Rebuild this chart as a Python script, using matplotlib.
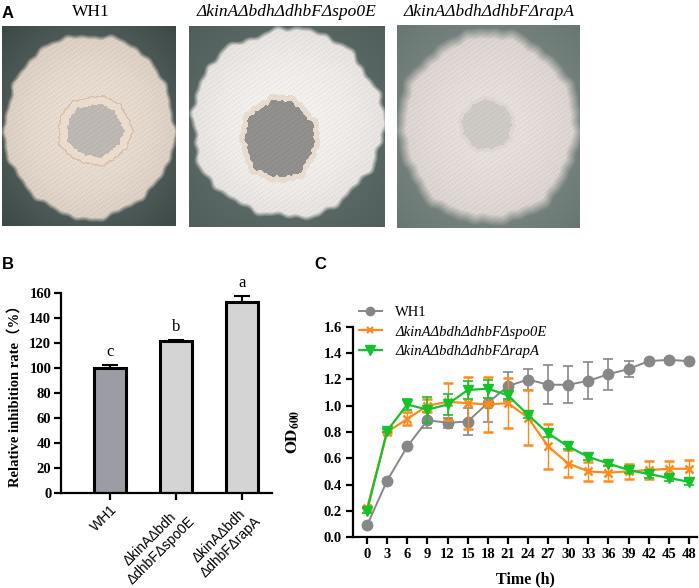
import numpy as np
import matplotlib
matplotlib.use("Agg")
import matplotlib.pyplot as plt
from matplotlib.lines import Line2D

plt.rcParams['mathtext.fontset'] = 'stix'

W, H = 699, 588
fig = plt.figure(figsize=(W / 100, H / 100), dpi=100)

def ax_px(x0, y0, x1, y1):
    return fig.add_axes([x0 / W, 1 - y1 / H, (x1 - x0) / W, (y1 - y0) / H])

SERIF = ['Liberation Serif', 'DejaVu Serif']
SANS = ['Liberation Sans', 'DejaVu Sans']

# ---------------- data ----------------
strains_photo = ['WH1', 'ΔkinAΔbdhΔdhbFΔspo0E', 'ΔkinAΔbdhΔdhbFΔrapA']

bar_labels = ['WH1', 'ΔkinAΔbdh\nΔdhbFΔspo0E', 'ΔkinAΔbdh\nΔdhbFΔrapA']
bar_values = [100, 121.5, 153]
bar_errors = [2.5, 0.8, 4.5]
bar_letters = ['c', 'b', 'a']
bar_colors = ['#9c9ca4', '#d4d4d4', '#d4d4d4']

time_h = [0, 3, 6, 9, 12, 15, 18, 21, 24, 27, 30, 33, 36, 39, 42, 45, 48]
wh1 = [0.09, 0.43, 0.69, 0.89, 0.87, 0.88, 1.02, 1.15, 1.20, 1.16, 1.16, 1.19, 1.24, 1.28, 1.34, 1.35, 1.34]
wh1_err = [0.01, 0.01, 0.01, 0.06, 0.04, 0.10, 0.14, 0.11, 0.08, 0.15, 0.14, 0.14, 0.12, 0.06, 0.01, 0.01, 0.01]
spo = [0.22, 0.80, 0.90, 1.00, 1.03, 1.02, 1.01, 1.02, 0.91, 0.69, 0.56, 0.50, 0.49, 0.50, 0.51, 0.52, 0.52]
spo_err = [0.01, 0.01, 0.05, 0.05, 0.14, 0.20, 0.21, 0.19, 0.21, 0.17, 0.10, 0.07, 0.06, 0.06, 0.07, 0.06, 0.07]
rap = [0.20, 0.81, 1.01, 0.97, 1.01, 1.12, 1.13, 1.08, 0.93, 0.79, 0.69, 0.61, 0.56, 0.51, 0.48, 0.45, 0.42]
rap_err = [0.02, 0.01, 0.04, 0.10, 0.08, 0.07, 0.07, 0.03, 0.02, 0.03, 0.02, 0.02, 0.02, 0.02, 0.03, 0.02, 0.02]
series_names = ['WH1', 'ΔkinAΔbdhΔdhbFΔspo0E', 'ΔkinAΔbdhΔdhbFΔrapA']

# ---------------- panel A (photo sketches) ----------------
def hexrgb(h):
    h = h.lstrip('#')
    return np.array([int(h[i:i + 2], 16) / 255 for i in (0, 2, 4)])

def wobble(a, amp, ph):
    return amp * (0.30 * np.sin(5 * a + ph) + 0.22 * np.sin(9 * a + 2.1 * ph)
                  + 0.20 * np.sin(14 * a + 0.7) + 0.16 * np.sin(23 * a + 1.9 * ph)
                  + 0.12 * np.sin(37 * a + 0.3))

def photo(ax, wpx, hpx, bg_mid, bg_edge, col, cx, cy, rx, ry, amp, soft,
          inner_col, icx, icy, irx, iry, ring_col, ring_w, ph, rim_col=None):
    yy, xx = np.mgrid[0:hpx, 0:wpx]
    u = xx / wpx
    v = yy / hpx
    d = np.clip(np.sqrt((u - 0.5) ** 2 + (v - 0.5) ** 2) / 0.71, 0, 1)
    bg = hexrgb(bg_mid)[None, None, :] * (1 - d[..., None]) + hexrgb(bg_edge)[None, None, :] * d[..., None]
    ang = np.arctan2((v - cy) / ry, (u - cx) / rx)
    rr = np.sqrt(((u - cx) / rx) ** 2 + ((v - cy) / ry) ** 2)
    edge = 1 + wobble(ang, amp, ph)
    m = np.clip((edge - rr) / soft, 0, 1)
    tex = (0.02 * np.sin(xx * 1.7 + 0.5 * yy) * np.sin(yy * 1.9)
           + 0.015 * np.sin(xx * 0.9 + yy * 1.3) + 0.015 * np.sin(xx * 2.9 - yy * 2.3))
    colc = hexrgb(col)[None, None, :] + tex[..., None] - 0.06 * (rr[..., None] ** 2)
    img = bg * (1 - m[..., None]) + colc * m[..., None]
    ia = np.arctan2((v - icy) / iry, (u - icx) / irx)
    ir = np.sqrt(((u - icx) / irx) ** 2 + ((v - icy) / iry) ** 2)
    iedge = 1 + wobble(ia, 0.10, ph + 1.0)
    ring = (ir < iedge + ring_w) & (ir >= iedge)
    inner = ir < iedge
    ringc = hexrgb(ring_col)[None, None, :] + 0.5 * tex[..., None]
    img[ring] = ringc[ring]
    if rim_col is not None:
        rim = (ir < iedge + ring_w + 0.06) & (ir >= iedge + ring_w)
        img[rim] = hexrgb(rim_col)
    innc = hexrgb(inner_col)[None, None, :] + 0.8 * tex[..., None]
    img[inner] = innc[inner]
    ax.imshow(np.clip(img, 0, 1), aspect='auto', interpolation='bilinear')
    ax.set_axis_off()

axp1 = ax_px(2, 26, 176, 226)
photo(axp1, 174, 200, '#6f7c78', '#3b4846', '#e9dcd1', 0.50, 0.50, 0.50, 0.47, 0.045, 0.05,
      '#bdb8b3', 0.53, 0.52, 0.16, 0.13, '#ecdccd', 0.28, 0.0, rim_col='#d6c1ae')
axp2 = ax_px(189, 26, 385, 227)
photo(axp2, 196, 201, '#6c7a76', '#4f5e5a', '#f3f0ee', 0.50, 0.48, 0.50, 0.48, 0.06, 0.05,
      '#908f8d', 0.46, 0.56, 0.175, 0.19, '#e8dbcf', 0.16, 1.5)
axp3 = ax_px(397, 25, 580, 228)
photo(axp3, 183, 203, '#8b9692', '#687671', '#e7dfdb', 0.50, 0.50, 0.51, 0.49, 0.04, 0.12,
      '#cdc9c5', 0.49, 0.49, 0.135, 0.12, '#e0d7d1', 0.15, 3.0)

fig.text(2 / W, 1 - 13 / H, 'A', family=SANS, weight='bold', fontsize=12, ha='left', va='center')
fig.text(91 / W, 1 - 12 / H, strains_photo[0], family=SERIF, fontsize=12.5, ha='center', va='center')
fig.text(286 / W, 1 - 12 / H, strains_photo[1], family=SERIF, style='italic', fontsize=12.5, ha='center', va='center')
fig.text(489 / W, 1 - 12 / H, strains_photo[2], family=SERIF, style='italic', fontsize=12.5, ha='center', va='center')

# ---------------- panel B ----------------
fig.text(2 / W, 1 - 264 / H, 'B', family=SANS, weight='bold', fontsize=12, ha='left', va='center')
axb = ax_px(61, 293, 272, 493)
xb = np.arange(len(bar_values))
axb.bar(xb, bar_values, width=0.48, color=bar_colors, edgecolor='black', linewidth=2.2, zorder=2)
axb.errorbar(xb, bar_values, yerr=[[0] * len(bar_errors), bar_errors], fmt='none',
             ecolor='black', elinewidth=1.5, capsize=6, capthick=1.5, zorder=1)
for xi, v, e, s in zip(xb, bar_values, bar_errors, bar_letters):
    axb.text(xi, v + e + 4, s, family=SERIF, fontsize=12, ha='center', va='bottom')
axb.set_xlim(-0.742, 2.45)
axb.set_ylim(0, 160)
axb.set_yticks(range(0, 161, 20))
axb.set_xticks(xb)
axb.set_xticklabels(bar_labels, rotation=45, ha='right', va='top', rotation_mode='anchor',
                    family=SANS, fontsize=10, multialignment='center')
for lab in axb.get_yticklabels():
    lab.set_family(SERIF); lab.set_weight('bold'); lab.set_fontsize(10.5)
for sp in ['top', 'right']:
    axb.spines[sp].set_visible(False)
for sp in ['left', 'bottom']:
    axb.spines[sp].set_linewidth(1.6)
axb.tick_params(axis='both', direction='out', length=5, width=1.6, pad=2)
fig.text(15 / W, 1 - 393 / H, 'Relative inhibition rate（%）', family=['Liberation Serif', 'Noto Sans CJK SC'],
         weight='bold', fontsize=10.5, rotation=90, ha='center', va='center')

# ---------------- panel C ----------------
fig.text(314 / W, 1 - 264 / H, 'C', family=SANS, weight='bold', fontsize=12, ha='left', va='center')
axc = ax_px(353, 327, 697, 537)
c_grey, c_orange, c_green = '#878787', '#ff8a1c', '#12c42a'
axc.errorbar(time_h, wh1, yerr=wh1_err, color=c_grey, marker='o', ms=7.5, lw=1.4,
             elinewidth=1.2, capsize=3.5, capthick=1.2, zorder=2)
axc.errorbar(time_h, spo, yerr=spo_err, color=c_orange, marker='x', ms=5.5, mew=1.8, lw=1.6,
             elinewidth=1.0, capsize=3.5, capthick=1.0, zorder=3)
axc.errorbar(time_h, rap, yerr=rap_err, color=c_green, marker='v', ms=7.5, lw=1.6,
             elinewidth=1.2, capsize=3.5, capthick=1.2, zorder=4)
axc.set_xlim(-2.1, 49.2)
axc.set_ylim(0, 1.6)
axc.set_xticks(time_h)
axc.set_yticks(np.arange(0, 1.61, 0.2))
axc.yaxis.set_major_formatter(matplotlib.ticker.FormatStrFormatter('%.1f'))
for lab in axc.get_xticklabels() + axc.get_yticklabels():
    lab.set_family(SERIF); lab.set_weight('bold'); lab.set_fontsize(10.5)
for sp in ['top', 'right']:
    axc.spines[sp].set_visible(False)
for sp in ['left', 'bottom']:
    axc.spines[sp].set_linewidth(1.6)
axc.tick_params(axis='both', direction='out', length=5, width=1.6, pad=3)
handles = [Line2D([], [], color=c_grey, marker='o', ms=6, lw=1.4),
           Line2D([], [], color=c_orange, marker='x', ms=5, mew=1.6, lw=1.6),
           Line2D([], [], color=c_green, marker='v', ms=7, lw=1.6)]
leg = axc.legend(handles, series_names, loc='upper left', bbox_to_anchor=(0.0, 1.13),
                 frameon=False, handlelength=1.6, handletextpad=0.9, labelspacing=0.45,
                 borderaxespad=0, prop={'family': SERIF, 'size': 10.5})
for i, t in enumerate(leg.get_texts()):
    if i > 0:
        t.set_style('italic')
fig.text(293 / W, 1 - 432 / H, r'$\mathbf{OD_{600}}$', fontsize=12, rotation=90, ha='center', va='center')
fig.text(525 / W, 1 - 579 / H, 'Time (h)', family=SERIF, weight='bold', fontsize=11.5, ha='center', va='center')

fig.savefig('out.png', dpi=100)
